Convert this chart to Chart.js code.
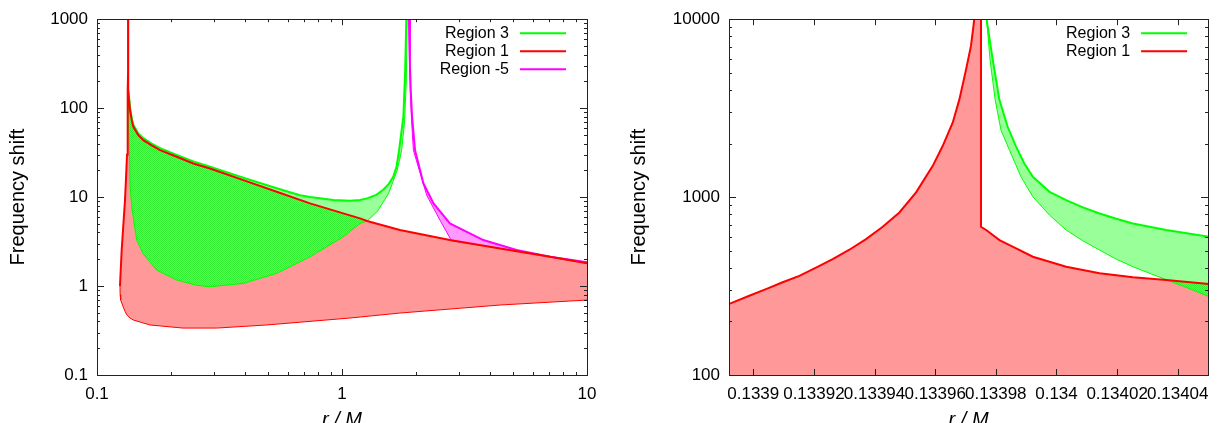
<!DOCTYPE html>
<html>
<head>
<meta charset="utf-8">
<script src="https://cdn.jsdelivr.net/npm/chart.js@4.4.1/dist/chart.umd.min.js"></script>
<style>
  html, body { margin: 0; padding: 0; background: #fff; }
  #wrap { position: relative; width: 1218px; height: 423px; }
  canvas { position: absolute; top: 0; }
  #left { left: 0; }
  #right { left: 610px; }
</style>
</head>
<body>
<div id="wrap">
  <canvas id="left" width="610" height="423"></canvas>
  <canvas id="right" width="608" height="423"></canvas>
</div>
<script>
// [r/M, frequency shift]
const region1Upper = [
  [0.1241, 1.0], [0.1261, 2.54], [0.1301, 9.25], [0.1313, 16], [0.1326, 30],
  [0.1332, 70], [0.1337, 160], [0.1338918, 250], [0.1338987, 279], [0.1339042, 304],
  [0.1339097, 332], [0.1339152, 361], [0.1339207, 401], [0.1339262, 448], [0.1339317, 506],
  [0.1339372, 581], [0.1339427, 681], [0.1339482, 820], [0.1339537, 1063], [0.1339592, 1499],
  [0.1339625, 1942], [0.1339658, 2629], [0.133968, 3553], [0.1339702, 5236], [0.1339718, 7079],
  [0.1339729, 10000], [0.1339742, 30000], [0.1339751, 30000], [0.1339751, 681], [0.1339768, 653],
  [0.1339812, 573], [0.1339867, 515], [0.1339922, 462], [0.1339977, 433], [0.1340032, 406],
  [0.1340142, 373], [0.1340252, 354], [0.1340362, 342], [0.1340505, 324], [0.1342, 159],
  [0.1364, 95], [0.1386, 73.3], [0.1407, 61.7], [0.1474, 49.7], [0.1545, 43.7],
  [0.1671, 38.1], [0.1808, 33.7], [0.2115, 28.4], [0.2473, 23.9], [0.2892, 21.0],
  [0.3956, 15.5], [0.5414, 11.5], [0.7401, 8.5], [1.0122, 6.56], [1.184, 5.76],
  [1.2656, 5.38], [1.7226, 4.26], [2.756, 3.29], [4.419, 2.65], [7.07, 2.13], [10, 1.80]
];
const region1Lower = [
  [0.1241, 1.0], [0.1243, 0.80], [0.1249, 0.696], [0.128, 0.581], [0.1301, 0.52],
  [0.1326, 0.47], [0.1364, 0.437], [0.1407, 0.415], [0.1646, 0.365], [0.2243, 0.337],
  [0.3078, 0.337], [0.4931, 0.365], [1.078, 0.437], [1.7226, 0.497], [4.42, 0.612], [10, 0.696]
];
const region3Upper = [
  [0.1339765, 15000], [0.133977, 9860], [0.133979, 5888], [0.1339812, 3508], [0.1339839, 2485],
  [0.1339867, 1917], [0.1339894, 1545], [0.1339922, 1300], [0.1339977, 1071], [0.1340032, 961],
  [0.1340087, 875], [0.1340142, 809], [0.1340197, 755], [0.1340252, 711], [0.1340362, 653],
  [0.1340505, 598], [0.1342, 330], [0.135, 165], [0.1364, 102], [0.1386, 77],
  [0.1407, 65], [0.1474, 52], [0.1545, 46], [0.1671, 40], [0.1808, 35.5],
  [0.2115, 29.8], [0.2473, 25.2], [0.2892, 22.0], [0.3956, 16.5], [0.5414, 12.6],
  [0.6738, 10.5], [0.7401, 10.0], [0.9222, 9.25], [1.078, 9.1], [1.184, 9.3],
  [1.2656, 9.67], [1.38, 10.6], [1.4697, 12], [1.55, 14], [1.619, 16.9],
  [1.67, 22], [1.71, 33.7], [1.78, 80], [1.81, 250], [1.83, 1000], [1.835, 3000]
];
const region3Lower = [
  [0.1339765, 15000], [0.133977, 9860], [0.1339781, 5888], [0.1339798, 3508], [0.1339817, 2377],
  [0.1339845, 1837], [0.1339883, 1300], [0.1339922, 1004], [0.1339977, 792], [0.1340032, 653],
  [0.1340087, 568], [0.1340142, 504], [0.1340197, 448], [0.1340252, 406], [0.1340351, 349],
  [0.1340417, 316], [0.1340505, 275], [0.1342, 180], [0.135, 80], [0.1358, 30],
  [0.1364, 14], [0.1386, 7.7], [0.1452, 3.29], [0.1545, 2.3], [0.1752, 1.51],
  [0.2115, 1.17], [0.2552, 1.02], [0.2892, 0.982], [0.3956, 1.07], [0.5414, 1.39],
  [0.7401, 2.13], [1.0122, 3.58], [1.184, 5.06], [1.2656, 5.38], [1.40, 7.0],
  [1.55, 11], [1.68, 20], [1.75, 33], [1.80, 70], [1.83, 200], [1.845, 1000], [1.85, 3000]
];
const region5Upper = [
  [1.875, 3000], [1.88, 1000], [1.894, 300], [1.91, 150], [1.932, 80], [1.9866, 33.7],
  [2.1488, 14.3], [2.3629, 8.5], [2.756, 5.06], [3.7737, 3.29], [5.1586, 2.54],
  [7.07, 2.13], [10, 1.85]
];
const region5Lower = [
  [1.865, 3000], [1.872, 1000], [1.886, 300], [1.90, 150], [1.925, 70], [1.9556, 33.7],
  [2.2163, 10.5], [2.5119, 5.5], [2.8012, 3.22], [4.419, 2.65], [7.07, 2.13], [10, 1.80]
];

// tick labels
const leftXLabels = [0.1, 1, 10];
const leftYLabels = [0.1, 1, 10, 100, 1000];
const rightXLabels = [0.1339, 0.13392, 0.13394, 0.13396, 0.13398, 0.134, 0.13402, 0.13404];
const rightYLabels = [100, 1000, 10000];
const rightXRange = [0.133892, 0.13405];

const FONT = '"Liberation Sans", Arial, Helvetica, sans-serif';
const PINK = '#ff9999', LIGHT_GREEN = '#99ff99', LIGHT_MAGENTA = '#ff99ff';
const RED = '#ff0000', GREEN = '#00ff00', MAGENTA = '#ff00ff';

Chart.defaults.font.family = FONT;
Chart.defaults.font.size = 16;
Chart.defaults.color = '#000';

// decade + 2..9 minor ticks
function logTicks(labels) {
  const out = [];
  labels.forEach((d, i) => {
    if (i === labels.length - 1) { out.push(d); return; }
    for (let m = 1; m <= 9; m++) out.push(+(d * m).toPrecision(6));
  });
  return out;
}

// keep points inside [lo, hi] plus one neighbour on each side
function inRange(points, lo, hi) {
  return points.filter((p, i) => {
    const prev = points[i - 1], next = points[i + 1];
    return (p[0] >= lo && p[0] <= hi) ||
      (p[0] < lo && next && next[0] >= lo) ||
      (p[0] > hi && prev && prev[0] <= hi);
  });
}

function labelFor(labels) {
  return (value) => {
    const hit = labels.find(l => Math.abs(l - value) <= 1e-9 * Math.abs(l));
    return hit === undefined ? '' : String(hit);
  };
}

// 1px checker, half of it left open so region 1 shows through
function hatchPattern(canvas) {
  const c = document.createElement('canvas');
  c.width = 2; c.height = 2;
  const g = c.getContext('2d');
  g.fillStyle = '#33ee33';
  g.fillRect(0, 0, 1, 1);
  g.fillRect(1, 1, 1, 1);
  return canvas.getContext('2d').createPattern(c, 'repeat');
}

function fillSet(points, color, order) {
  return { data: points.slice(), fill: '+1', backgroundColor: color, borderWidth: 0,
    borderColor: 'transparent', pointRadius: 0, pointHoverRadius: 0, order };
}
function edgeSet(points, order, blendAfter) {
  return { data: points.slice(), fill: false, borderWidth: 0, borderColor: 'transparent',
    pointRadius: 0, pointHoverRadius: 0, order, blendAfter };
}
function lineSet(points, label, color, width, order) {
  return { label, data: points.slice(), fill: false, borderColor: color, borderWidth: width,
    pointRadius: 0, pointHoverRadius: 0, tension: 0, order };
}

// overlap of region 3 with region 1 gets the checker, the rest a plain light green
const blendPlugin = {
  id: 'blend',
  afterDatasetDraw(chart, args) {
    const mode = chart.data.datasets[args.index].blendAfter;
    if (mode) chart.ctx.globalCompositeOperation = mode;
  },
  afterDatasetsDraw(chart) { chart.ctx.globalCompositeOperation = 'source-over'; }
};

// gnuplot style frame with inward ticks on all four sides
const framePlugin = {
  id: 'frame',
  afterDatasetsDraw(chart) {
    const { ctx, chartArea: a, scales } = chart;
    ctx.save();
    ctx.globalCompositeOperation = 'source-over';
    ctx.strokeStyle = '#222';
    ctx.lineWidth = 1;
    ctx.beginPath();
    scales.x.ticks.forEach(t => {
      const p = Math.round(scales.x.getPixelForValue(t.value)) + 0.5;
      const len = t.label ? 6 : 3;
      ctx.moveTo(p, a.bottom); ctx.lineTo(p, a.bottom - len);
      ctx.moveTo(p, a.top); ctx.lineTo(p, a.top + len);
    });
    scales.y.ticks.forEach(t => {
      const p = Math.round(scales.y.getPixelForValue(t.value)) + 0.5;
      const len = t.label ? 7 : 3;
      ctx.moveTo(a.left, p); ctx.lineTo(a.left + len, p);
      ctx.moveTo(a.right, p); ctx.lineTo(a.right - len, p);
    });
    ctx.stroke();
    ctx.strokeRect(Math.round(a.left) + 0.5, Math.round(a.top) + 0.5,
      Math.round(a.right - a.left), Math.round(a.bottom - a.top));
    ctx.restore();
  }
};

// key inside the top right corner, text before the sample line
const keyPlugin = {
  id: 'key',
  afterDraw(chart, args, opts) {
    const { ctx, chartArea: a } = chart;
    ctx.save();
    ctx.font = '16px ' + FONT;
    ctx.textAlign = 'right';
    ctx.textBaseline = 'middle';
    opts.items.forEach((it, i) => {
      const y = a.top + 14 + i * 18;
      ctx.fillStyle = '#000';
      ctx.fillText(it.label, a.right - 78, y);
      ctx.strokeStyle = it.color;
      ctx.lineWidth = 2;
      ctx.beginPath();
      ctx.moveTo(a.right - 67, y);
      ctx.lineTo(a.right - 21, y);
      ctx.stroke();
    });
    ctx.restore();
  }
};

function buildDatasets(pick, withRegion5, hatch) {
  const r1u = pick(region1Upper), r1l = pick(region1Lower);
  const r3u = pick(region3Upper), r3l = pick(region3Lower);
  const sets = [
    fillSet(r1u, PINK, 100), edgeSet(r1l, 99, 'source-atop'),
    fillSet(r3u, hatch, 98), edgeSet(r3l, 97, 'destination-over'),
    fillSet(r3u, LIGHT_GREEN, 96), edgeSet(r3l, 95, 'source-over')
  ];
  if (withRegion5) {
    sets.push(fillSet(region5Upper, LIGHT_MAGENTA, 94), edgeSet(region5Lower, 93));
  }
  sets.push(lineSet(r3u, 'Region 3', GREEN, 2, 20), lineSet(r3l, '', GREEN, 1, 19));
  if (withRegion5) {
    sets.push(lineSet(region5Upper, 'Region -5', MAGENTA, 2, 18), lineSet(region5Lower, '', MAGENTA, 1, 17));
  }
  sets.push(lineSet(r1u, 'Region 1', RED, 2, 16), lineSet(r1l, '', RED, 1, 15));
  return sets;
}

function makeChart(canvas, cfg) {
  return new Chart(canvas, {
    type: 'line',
    data: { datasets: cfg.datasets },
    options: {
      responsive: false,
      animation: false,
      events: [],
      layout: { padding: { left: 0, top: 19, right: cfg.padRight, bottom: 0 } },
      scales: {
        x: {
          type: cfg.xType, min: cfg.xMin, max: cfg.xMax,
          grid: { display: false, drawTicks: false }, border: { display: false },
          afterBuildTicks: (s) => { s.ticks = cfg.xTicks.map(v => ({ value: v })); },
          afterFit: (s) => { s.height = 48; },
          ticks: { padding: 9, autoSkip: false, maxRotation: 0, minRotation: 0,
            font: { size: 17 }, callback: labelFor(cfg.xLabels) },
          title: { display: true, text: 'r / M', font: { style: 'italic', size: 20 }, padding: { top: 0, bottom: -9 } }
        },
        y: {
          type: 'logarithmic', min: cfg.yMin, max: cfg.yMax,
          grid: { display: false, drawTicks: false }, border: { display: false },
          afterBuildTicks: (s) => { s.ticks = logTicks(cfg.yLabels).map(v => ({ value: v })); },
          afterFit: (s) => { s.width = cfg.yWidth; },
          ticks: { padding: 9, autoSkip: false, font: { size: 17 }, callback: labelFor(cfg.yLabels) },
          title: { display: true, text: 'Frequency shift', font: { size: 20 }, padding: { top: cfg.titlePad, bottom: 0 } }
        }
      },
      plugins: {
        legend: { display: false },
        tooltip: { enabled: false },
        key: { items: cfg.key }
      }
    },
    plugins: [blendPlugin, framePlugin, keyPlugin]
  });
}

const leftCanvas = document.getElementById('left');
const rightCanvas = document.getElementById('right');

makeChart(leftCanvas, {
  datasets: buildDatasets(p => p, true, hatchPattern(leftCanvas)),
  xType: 'logarithmic', xMin: 0.1, xMax: 10,
  xTicks: logTicks(leftXLabels), xLabels: leftXLabels,
  yMin: 0.1, yMax: 1000, yLabels: leftYLabels,
  yWidth: 97, titlePad: 6, padRight: 23,
  key: [
    { label: 'Region 3', color: GREEN },
    { label: 'Region 1', color: RED },
    { label: 'Region -5', color: MAGENTA }
  ]
});

makeChart(rightCanvas, {
  datasets: buildDatasets(p => inRange(p, rightXRange[0], rightXRange[1]), false, hatchPattern(rightCanvas)),
  xType: 'linear', xMin: rightXRange[0], xMax: rightXRange[1],
  xTicks: rightXLabels, xLabels: rightXLabels,
  yMin: 100, yMax: 10000, yLabels: rightYLabels,
  yWidth: 119, titlePad: 17, padRight: 8,
  key: [
    { label: 'Region 3', color: GREEN },
    { label: 'Region 1', color: RED }
  ]
});
</script>
</body>
</html>
